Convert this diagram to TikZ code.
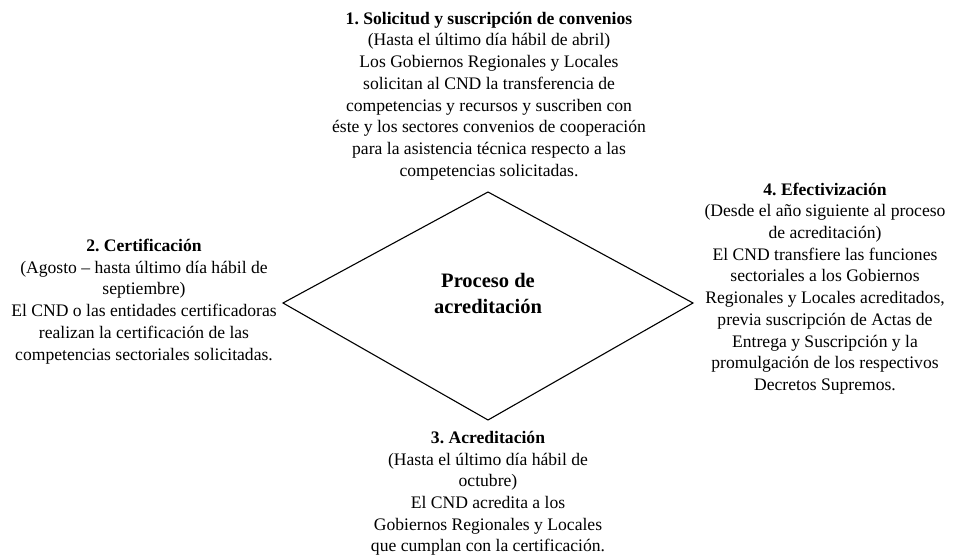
\documentclass[tikz,border=0pt]{standalone}
\usepackage{fontspec}
\setmainfont{Liberation Serif}
\frenchspacing
\begin{document}
\begin{tikzpicture}[x=1pt,y=-1pt,
  txt/.style={align=center,inner sep=0pt,font=\fontsize{17.6}{21.7}\selectfont},
  ttl/.style={align=center,inner sep=0pt,font=\fontsize{20.5}{26}\selectfont\bfseries}]
\useasboundingbox (0,0) rectangle (955,556);
\coordinate (T) at (488,192);
\coordinate (R) at (693,303);
\coordinate (B) at (488,420);
\coordinate (L) at (283,303);
\draw[line width=1.1pt, line join=miter] (T) -- (R) -- (B) -- (L) -- cycle;
\node[ttl] (c) at (488,293) {Proceso de\\acreditación};
\node[txt] (n1) at (489,96) {\textbf{1. Solicitud y suscripción de convenios}\\(Hasta el último día hábil de abril)\\Los Gobiernos Regionales y Locales\\solicitan al CND la transferencia de\\competencias y recursos y suscriben con\\éste y los sectores convenios de cooperación\\para la asistencia técnica respecto a las\\competencias solicitadas.};
\node[txt] (n2) at (144,301.5) {\textbf{2. Certificación}\\(Agosto – hasta último día hábil de\\septiembre)\\El CND o las entidades certificadoras\\realizan la certificación de las\\competencias sectoriales solicitadas.};
\node[txt] (n4) at (825,288.5) {\textbf{4. Efectivización}\\(Desde el año siguiente al proceso\\de acreditación)\\El CND transfiere las funciones\\sectoriales a los Gobiernos\\Regionales y Locales acreditados,\\previa suscripción de Actas de\\Entrega y Suscripción y la\\promulgación de los respectivos\\Decretos Supremos.};
\node[txt] (n3) at (488,493.5) {\textbf{3. Acreditación}\\(Hasta el último día hábil de\\octubre)\\El CND acredita a los\\Gobiernos Regionales y Locales\\que cumplan con la certificación.};
\end{tikzpicture}
\end{document}
